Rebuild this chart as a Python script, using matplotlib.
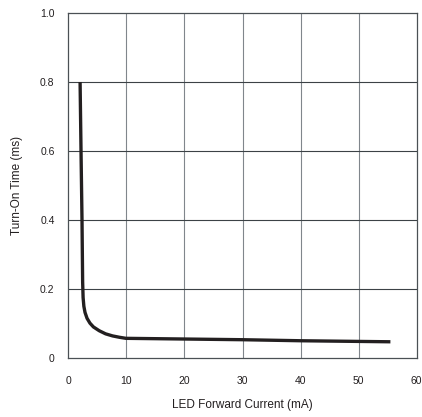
import matplotlib.pyplot as plt
import numpy as np

plt.rcParams['font.family'] = ['Liberation Sans', 'DejaVu Sans']

# curve
current = [2.0, 2.16, 2.33, 2.44, 2.52, 2.65, 2.85, 3.2, 3.7, 4.3, 5.3, 6.4, 7.6, 8.8, 9.9,
           20, 30, 40, 55.5]
t_on = [0.80, 0.60, 0.40, 0.22, 0.175, 0.150, 0.132, 0.115, 0.101, 0.090, 0.079, 0.070, 0.064, 0.060, 0.057,
        0.055, 0.053, 0.050, 0.047]

xticks = [0, 10, 20, 30, 40, 50, 60]
yticks = [0, 0.2, 0.4, 0.6, 0.8, 1.0]
yticklabels = ['0', '0.2', '0.4', '0.6', '0.8', '1.0']

fig = plt.figure(figsize=[4.22, 4.17], dpi=100)
ax = fig.add_axes([0.1623, 0.1415, 0.8247, 0.8273])

for x in xticks[1:-1]:
    ax.axvline(x, color='#80868c', lw=0.8, zorder=1)
for y in yticks[1:-1]:
    ax.axhline(y, color='#3c4246', lw=0.8, zorder=1)

ax.plot(current, t_on, color='#231f20', lw=2.4, solid_capstyle='butt', zorder=3)

ax.set_xlim(0, 60)
ax.set_ylim(0, 1.0)
ax.set_xticks(xticks)
ax.set_yticks(yticks)
ax.set_yticklabels(yticklabels)
ax.tick_params(length=0, labelsize=7.5, colors='#231f20')
ax.tick_params(axis='x', pad=13)
ax.tick_params(axis='y', pad=10)
for s in ax.spines.values():
    s.set_color('#4a5054')
    s.set_linewidth(0.9)

ax.set_xlabel('LED Forward Current (mA)', fontsize=8.5, color='#231f20', labelpad=9)
ax.set_ylabel('Turn-On Time (ms)', fontsize=8.5, color='#231f20', labelpad=12)

fig.savefig('out.png')
